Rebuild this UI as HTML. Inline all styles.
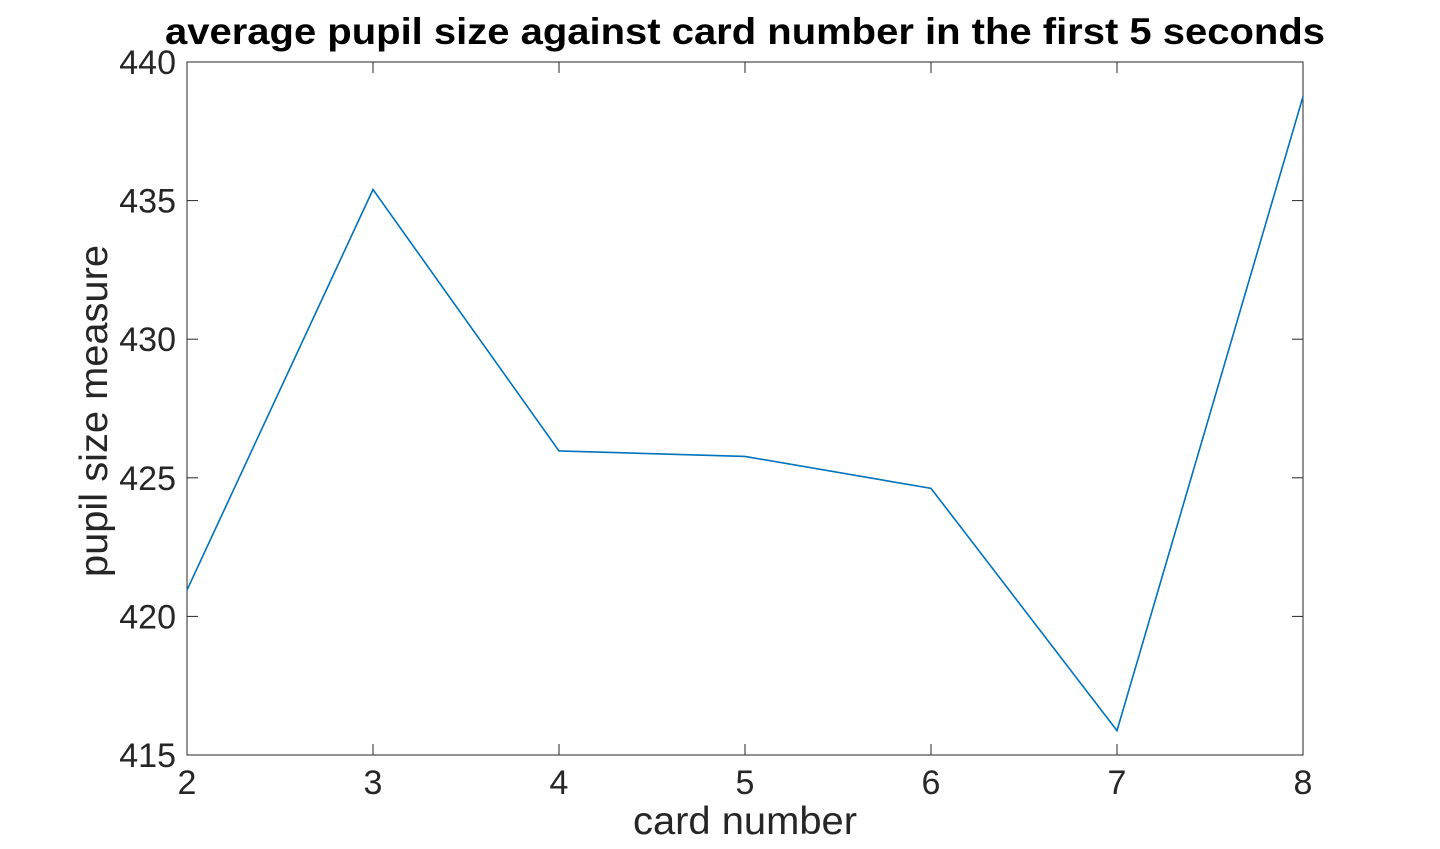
<!DOCTYPE html>
<html><head><meta charset="utf-8"><style>
html,body{margin:0;padding:0;background:#fff;}
svg{display:block;font-family:"Liberation Sans",Arial,sans-serif;}
</style></head><body>
<svg id="chart" width="1440" height="849" viewBox="0 0 1440 849">
<rect width="1440" height="849" fill="#fff"/>
<text x="745" y="44" text-anchor="middle" font-size="37" font-weight="bold" fill="#000" textLength="1160" lengthAdjust="spacingAndGlyphs">average pupil size against card number in the first 5 seconds</text>
<g id="axes"></g>
<text x="745" y="834" text-anchor="middle" font-size="39" fill="#262626" textLength="224" lengthAdjust="spacingAndGlyphs">card number</text>
<text transform="translate(107,411) rotate(-90)" text-anchor="middle" font-size="39" fill="#262626" textLength="332" lengthAdjust="spacingAndGlyphs">pupil size measure</text>
</svg>
<script>
const categories = [2,3,4,5,6,7,8];
const values = [420.95, 435.4, 425.97, 425.77, 424.62, 415.88, 438.75];
const xTicks = [2,3,4,5,6,7,8];
const yTicks = [415,420,425,430,435,440];
const L=187,R=1303,T=62,B=755;
const xMin=2,xMax=8,yMin=415,yMax=440;
const sx=v=>L+(v-xMin)/(xMax-xMin)*(R-L);
const sy=v=>B-(v-yMin)/(yMax-yMin)*(B-T);
const NS="http://www.w3.org/2000/svg";
const g=document.getElementById('axes');
function mk(t,a){const e=document.createElementNS(NS,t);for(const k in a)e.setAttribute(k,a[k]);g.appendChild(e);return e;}
const box=mk('rect',{x:L,y:T,width:R-L,height:B-T,fill:'none',stroke:'#262626','stroke-width':1});


xTicks.forEach(v=>{
  const x=sx(v);
  mk('line',{x1:x,y1:B,x2:x,y2:B-11,stroke:'#262626'});
  mk('line',{x1:x,y1:T,x2:x,y2:T+11,stroke:'#262626'});
  const t=mk('text',{x:x,y:794,'text-anchor':'middle','font-size':34,fill:'#262626'});
  t.textContent=v;
  
  
});
yTicks.forEach(v=>{
  const y=sy(v);
  mk('line',{x1:L,y1:y,x2:L+11,y2:y,stroke:'#262626'});
  mk('line',{x1:R,y1:y,x2:R-11,y2:y,stroke:'#262626'});
  const t=mk('text',{x:176,y:y+12,'text-anchor':'end','font-size':34,fill:'#262626'});
  t.textContent=v;
  
  
});
const pts=categories.map((c,i)=>sx(c)+','+sy(values[i])).join(' ');
const line=mk('polyline',{points:pts,fill:'none',stroke:'#0072BD','stroke-width':1.6});


</script>
</body></html>
